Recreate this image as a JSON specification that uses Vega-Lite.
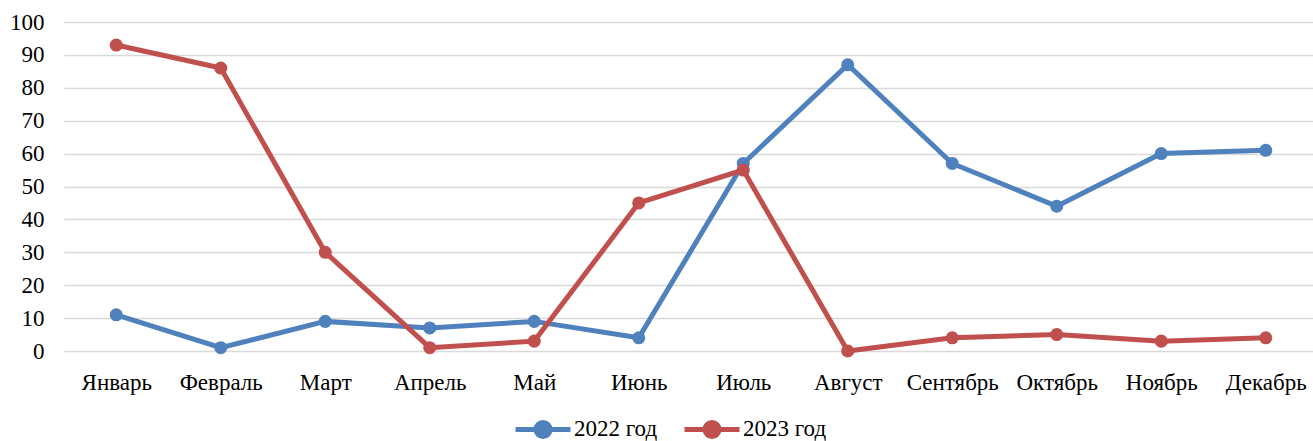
{
  "$schema": "https://vega.github.io/schema/vega-lite/v6.json",
  "autosize": "none",
  "width": 1254,
  "height": 329,
  "padding": {"left": 64, "top": 22, "right": 0, "bottom": 90},
  "background": "white",
  "config": {
    "view": {"stroke": null},
    "font": "Liberation Serif"
  },
  "data": {
    "values": [
      {"month": "Январь", "series": "2022 год", "value": 11},
      {"month": "Февраль", "series": "2022 год", "value": 1},
      {"month": "Март", "series": "2022 год", "value": 9},
      {"month": "Апрель", "series": "2022 год", "value": 7},
      {"month": "Май", "series": "2022 год", "value": 9},
      {"month": "Июнь", "series": "2022 год", "value": 4},
      {"month": "Июль", "series": "2022 год", "value": 57},
      {"month": "Август", "series": "2022 год", "value": 87},
      {"month": "Сентябрь", "series": "2022 год", "value": 57},
      {"month": "Октябрь", "series": "2022 год", "value": 44},
      {"month": "Ноябрь", "series": "2022 год", "value": 60},
      {"month": "Декабрь", "series": "2022 год", "value": 61},
      {"month": "Январь", "series": "2023 год", "value": 93},
      {"month": "Февраль", "series": "2023 год", "value": 86},
      {"month": "Март", "series": "2023 год", "value": 30},
      {"month": "Апрель", "series": "2023 год", "value": 1},
      {"month": "Май", "series": "2023 год", "value": 3},
      {"month": "Июнь", "series": "2023 год", "value": 45},
      {"month": "Июль", "series": "2023 год", "value": 55},
      {"month": "Август", "series": "2023 год", "value": 0},
      {"month": "Сентябрь", "series": "2023 год", "value": 4},
      {"month": "Октябрь", "series": "2023 год", "value": 5},
      {"month": "Ноябрь", "series": "2023 год", "value": 3},
      {"month": "Декабрь", "series": "2023 год", "value": 4}
    ]
  },
  "mark": {"type": "line", "strokeWidth": 5, "point": {"filled": true, "size": 170, "opacity": 1}},
  "encoding": {
    "x": {
      "field": "month", "type": "nominal", "sort": null,
      "scale": {"type": "point", "padding": 0.5},
      "axis": {"title": null, "labelAngle": 0, "domain": false, "ticks": false, "labelPadding": 20, "grid": false, "labelFont": "Liberation Serif", "labelFontSize": 23, "labelColor": "#000000"}
    },
    "y": {
      "field": "value", "type": "quantitative",
      "scale": {"domain": [0, 100], "nice": false},
      "axis": {"title": null, "values": [0,10,20,30,40,50,60,70,80,90,100], "domain": false, "ticks": false, "labelPadding": 20, "grid": true, "gridColor": "#d9d9d9", "gridWidth": 1.5, "labelFont": "Liberation Serif", "labelFontSize": 23, "labelColor": "#000000"}
    },
    "color": {
      "field": "series", "type": "nominal",
      "scale": {"domain": ["2022 год", "2023 год"], "range": ["#4F81BD", "#C0504D"]},
      "legend": {
        "title": null, "orient": "none", "direction": "horizontal",
        "legendX": 449, "legendY": 377,
        "padding": 0,
        "symbolType": "M-1,0H1M0.255,0A0.255,0.255 0 1,1 -0.255,0A0.255,0.255 0 1,1 0.255,0",
        "symbolSize": 3025,
        "symbolStrokeWidth": 5,
        "symbolOpacity": 1,
        "labelOffset": 1,
        "columnPadding": 16,
        "labelFont": "Liberation Serif", "labelFontSize": 23, "labelColor": "#000000"
      }
    }
  }
}
